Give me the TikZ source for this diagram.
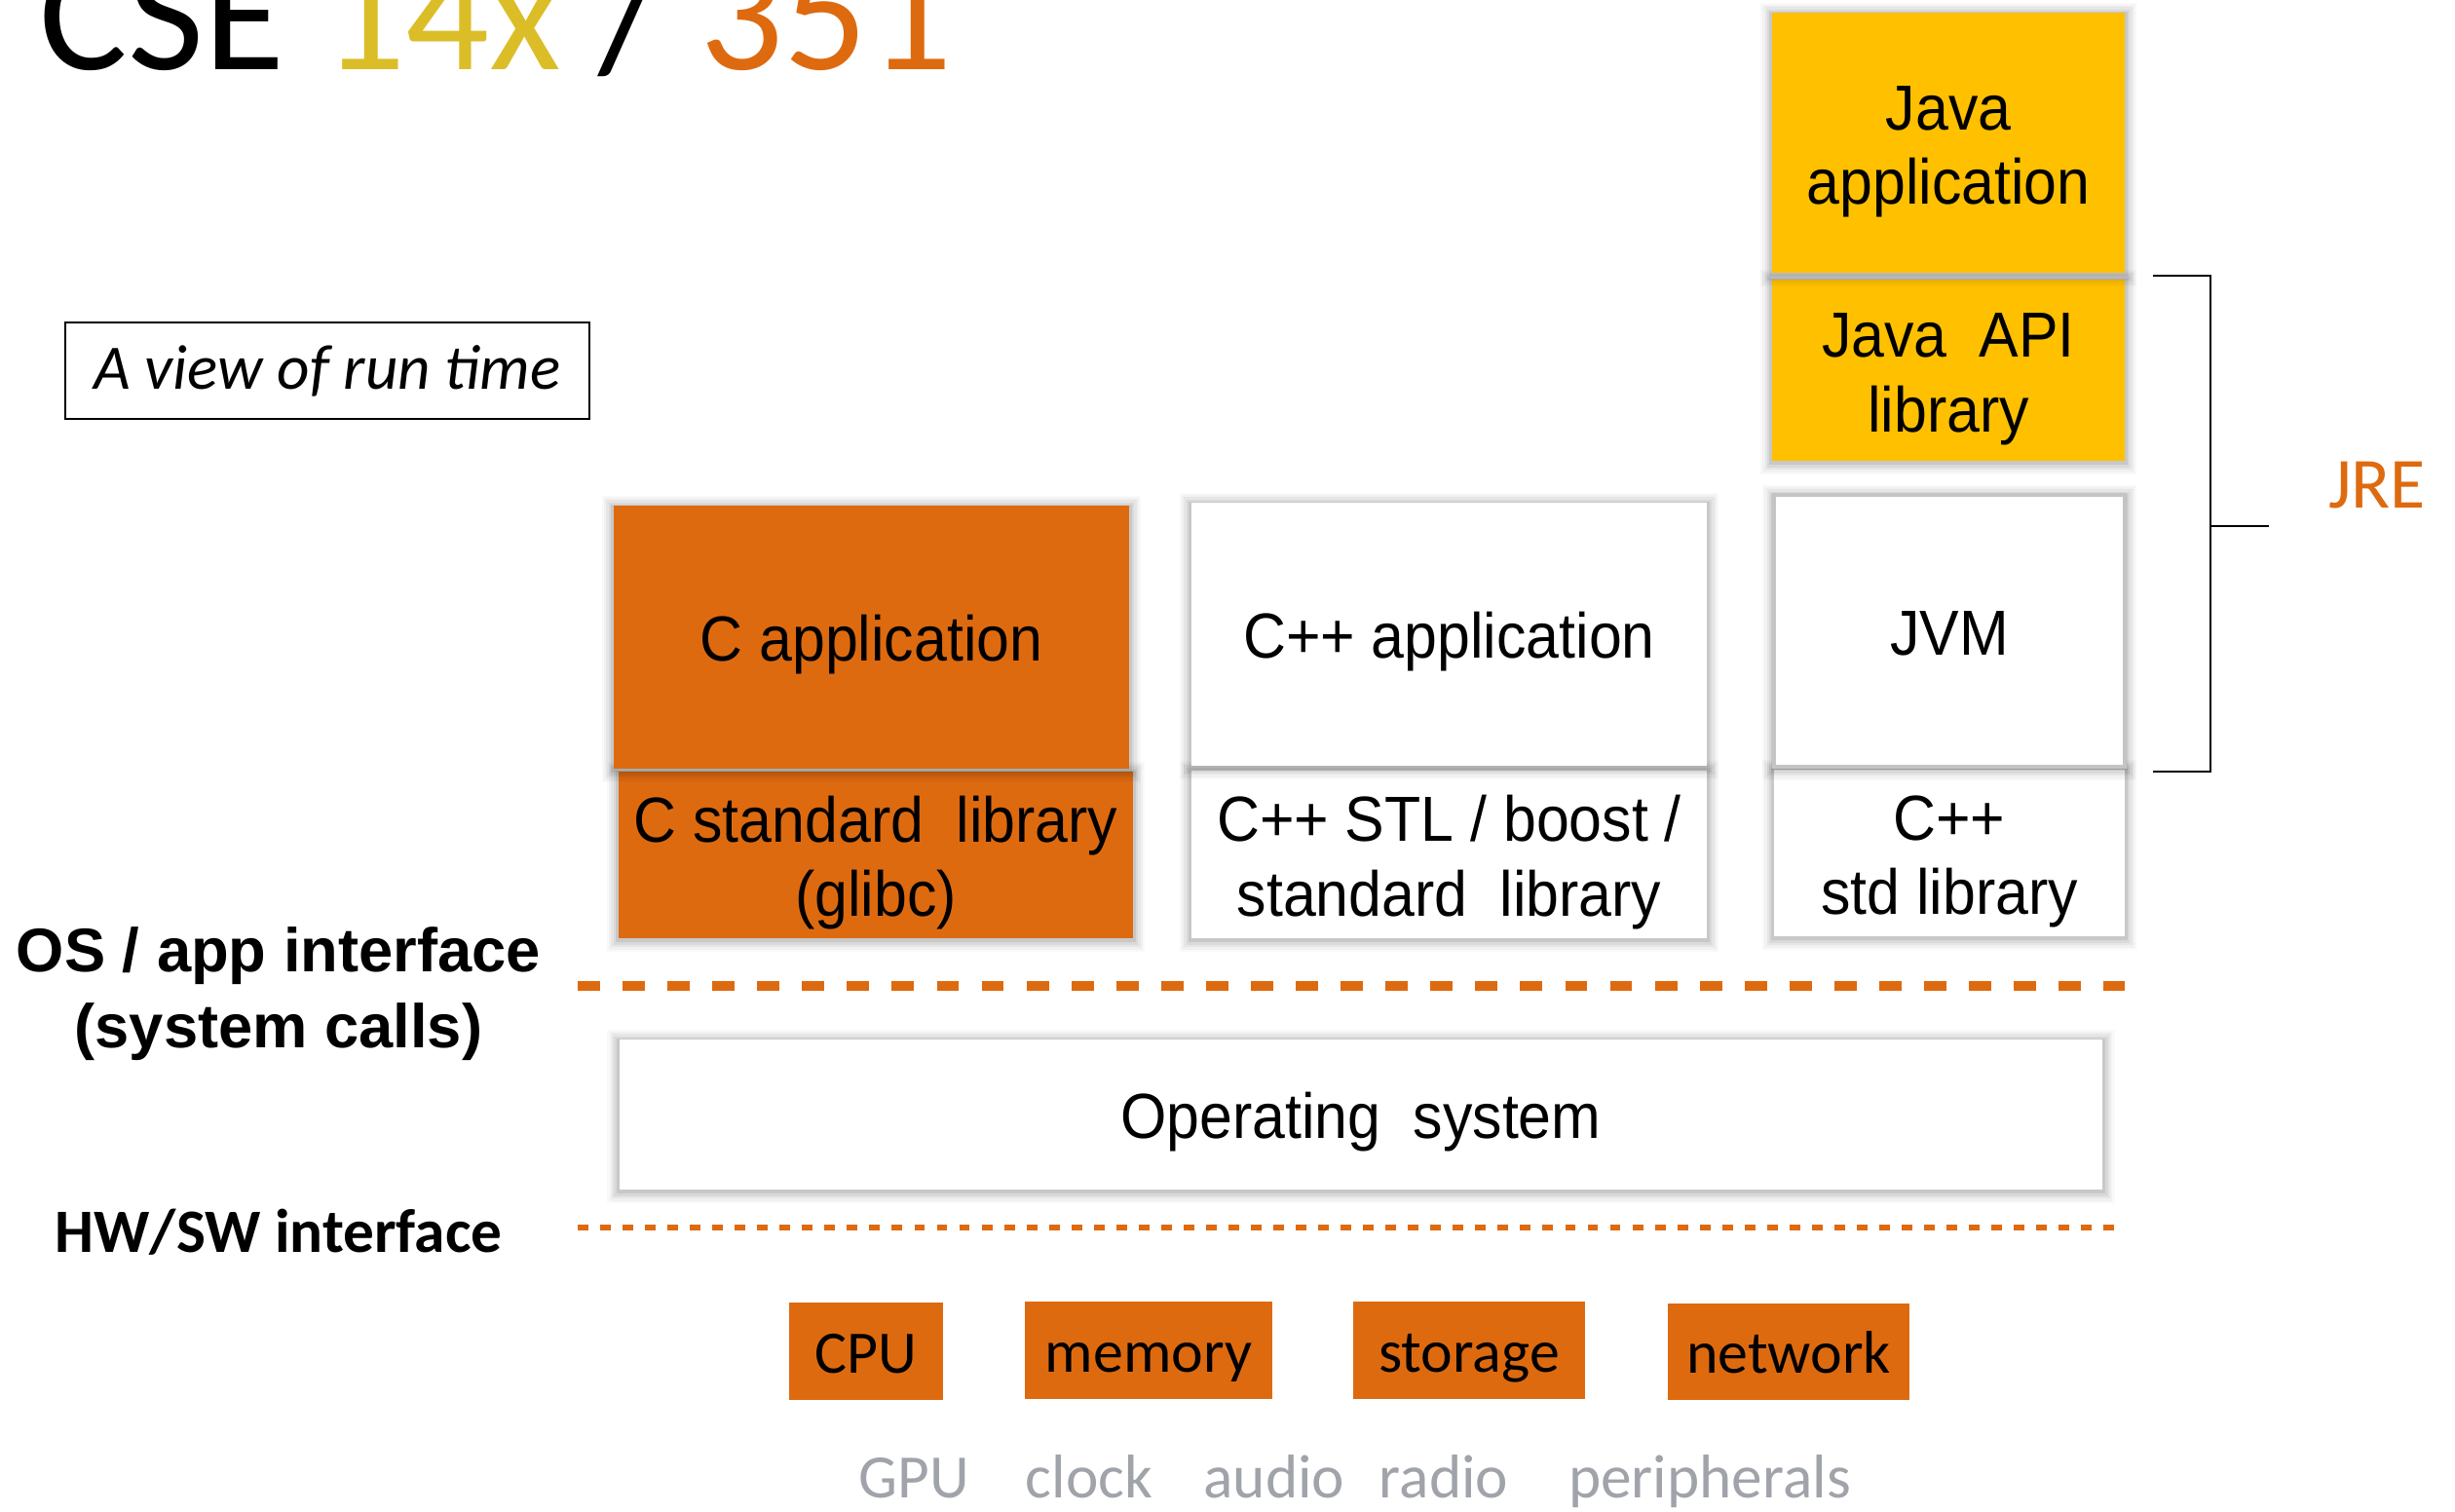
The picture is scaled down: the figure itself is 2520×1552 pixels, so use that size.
\documentclass[tikz,border=0pt]{standalone}
\usepackage{fontspec}
\setmainfont{Carlito}
\newfontfamily\arialf{Liberation Sans}[FakeStretch=0.93]
\newfontfamily\arialbf{Liberation Sans Bold}
\definecolor{corange}{HTML}{DE6A10}
\definecolor{jyellow}{HTML}{FFC000}
\definecolor{tyellow}{HTML}{DBBD28}
\definecolor{hwgrey}{HTML}{A0A4AA}
\definecolor{jvmline}{HTML}{C4C4C4}
\newcommand{\wsp}{\hspace{0.25em}}
\newcommand{\tops}{\rule{0pt}{18.2pt}}
\newcommand{\bots}{\rule[-4pt]{0pt}{4pt}}
\newcommand{\htops}{\rule{0pt}{17.1pt}}
\newcommand{\hbots}{\rule[-4.5pt]{0pt}{4.5pt}}
\tikzset{
  softshade/.style={
    preaction={draw=black, draw opacity=0.022, line width=7pt, transform canvas={yshift=-0.6pt}},
    preaction={draw=black, draw opacity=0.032, line width=5.6pt, transform canvas={yshift=-0.6pt}},
    preaction={draw=black, draw opacity=0.042, line width=4.2pt, transform canvas={yshift=-0.5pt}},
    preaction={draw=black, draw opacity=0.055, line width=2.9pt, transform canvas={yshift=-0.5pt}},
    preaction={draw=black, draw opacity=0.075, line width=1.6pt, transform canvas={yshift=-0.4pt}}
  },
  layerbox/.style={softshade, inner sep=0pt, outer sep=0pt, align=center,
    font=\arialf\fontsize{18.6pt}{21.8pt}\selectfont},
  whitebox/.style={layerbox, fill=white},
  orangebox/.style={layerbox, fill=corange},
  yellowbox/.style={layerbox, fill=jyellow},
  hwbox/.style={fill=corange, inner sep=0pt, outer sep=0pt,
    font=\fontsize{17.6pt}{21pt}\selectfont},
  greyword/.style={anchor=base, text=hwgrey, inner sep=0pt,
    font=\fontsize{18pt}{21pt}\selectfont},
  bracketline/.style={draw=black, line width=0.6pt},
  thickdash/.style={draw=corange, line width=2.85pt, dash pattern=on 6.5pt off 6.6pt},
  thindash/.style={draw=corange, line width=1.5pt, dash pattern=on 3.1pt off 3.45pt}
}
\begin{document}
\begin{tikzpicture}[x=0.01cm, y=-0.01cm]
\useasboundingbox[fill=white] (0,0) rectangle (2520,1552);

% title
\node[anchor=base west, inner sep=0pt, font=\fontsize{48.3pt}{52pt}\selectfont] (title) at (40,72)
  {CSE \textcolor{tyellow}{14x} / \textcolor{corange}{351}};

% view box
\node[draw=black, line width=0.5pt, minimum width=5.38cm, minimum height=0.99cm, inner sep=0pt,
      font=\itshape\fontsize{18.5pt}{21pt}\selectfont] (view) at (336,380.5) {A view of run time};

% lower layer boxes first so upper shadows fall on them
\node[orangebox, minimum width=5.28cm, minimum height=1.71cm] (cstd) at (899,877.5)
  {\tops C standard\wsp{} library\\(glibc)\bots};
\node[whitebox, minimum width=5.29cm, minimum height=1.72cm] (cppstl) at (1487.5,877)
  {\tops C++ STL / boost /\\standard\wsp{} library\bots};
\node[whitebox, minimum width=3.60cm, minimum height=1.71cm] (cppstd) at (2001,875.5)
  {\tops C++\\std library\bots};

\node[orangebox, minimum width=5.29cm, minimum height=2.70cm] (capp) at (894.5,654) {\tops C application\bots};
\node[whitebox, minimum width=5.29cm, minimum height=2.70cm] (cppapp) at (1487.5,651) {\tops C++ application\bots};
\node[whitebox, draw=jvmline, line width=1pt, minimum width=3.60cm, minimum height=2.79cm] (jvm) at (2001,647.5) {\tops JVM\bots};

\node[yellowbox, minimum width=3.62cm, minimum height=1.86cm] (japi) at (2000,380) {\tops Java\wsp{} API\\library\bots};
\node[yellowbox, minimum width=3.62cm, minimum height=2.67cm] (japp) at (2000,146.5) {\tops Java\\application\bots};

% JRE bracket
\coordinate (jreT) at (2210,283);
\coordinate (jreTR) at (2269,283);
\coordinate (jreBR) at (2269,792);
\coordinate (jreB) at (2210,792);
\coordinate (jreMR) at (2269,540);
\coordinate (jreM) at (2329,540);
\draw[bracketline] (jreT) -- (jreTR) -- (jreBR) -- (jreB);
\draw[bracketline] (jreMR) -- (jreM);
\node[anchor=base, inner sep=0pt, text=corange, font=\fontsize{21pt}{24pt}\selectfont] (jre) at (2440,522) {JRE};

% OS / app interface
\node[align=center, inner sep=0pt, font=\arialbf\fontsize{18pt}{22.2pt}\selectfont] (osapp) at (286,1020)
  {OS / app interface\\(system calls)};
\coordinate (d1a) at (593,1012);
\coordinate (d1b) at (2181,1012);
\draw[thickdash] (d1a) -- (d1b);

% operating system
\node[whitebox, minimum width=15.22cm, minimum height=1.54cm] (os) at (1397,1144) {\tops Operating\wsp{} system\bots};

% HW/SW interface
\node[anchor=base, inner sep=0pt, font=\bfseries\fontsize{18pt}{21pt}\selectfont] (hwsw) at (286,1285) {HW/SW interface};
\coordinate (d2a) at (593,1260);
\coordinate (d2b) at (2178,1260);
\draw[thindash] (d2a) -- (d2b);

% hardware
\node[hwbox, minimum width=1.58cm, minimum height=0.99cm] (cpu) at (889,1387) {\htops CPU\hbots};
\node[hwbox, minimum width=2.54cm, minimum height=1.00cm] (mem) at (1179,1386) {\htops memory\hbots};
\node[hwbox, minimum width=2.38cm, minimum height=1.00cm] (sto) at (1508,1386) {\htops storage\hbots};
\node[hwbox, minimum width=2.48cm, minimum height=0.99cm] (net) at (1836,1387.5) {\htops network\hbots};

% other devices
\node[greyword] (gpu) at (938,1537) {GPU};
\node[greyword] (clk) at (1118,1537) {clock};
\node[greyword] (aud) at (1308,1537) {audio};
\node[greyword] (rad) at (1482,1537) {radio};
\node[greyword] (per) at (1755,1537) {peripherals};
\end{tikzpicture}
\end{document}
